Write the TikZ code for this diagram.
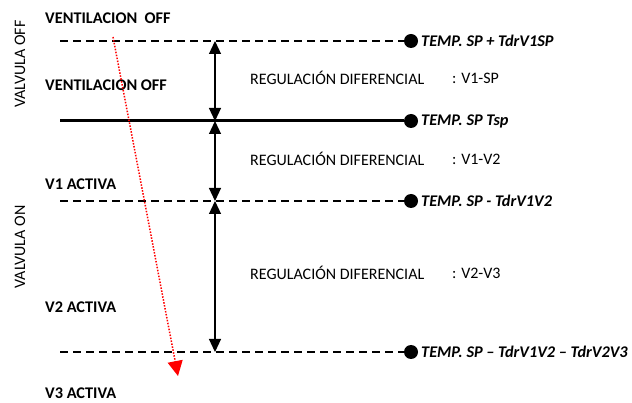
\documentclass[tikz,border=0pt]{standalone}
\usepackage{fontspec}
\setmainfont{Carlito}
\usetikzlibrary{arrows.meta}
\begin{document}
\begin{tikzpicture}[x=1pt,y=-1pt,
  lbl/.style={font=\fontsize{16.3}{18}\selectfont\bfseries, anchor=west, inner sep=0},
  tlbl/.style={font=\fontsize{16.3}{18}\selectfont\bfseries\itshape, anchor=west, inner sep=0},
  reg/.style={font=\fontsize{16}{18}\selectfont, anchor=west, inner sep=0},
  dot/.style={circle, fill=black, minimum size=14pt, inner sep=0},
  dline/.style={dash pattern=on 8pt off 5pt, line width=1.3pt},
  dim/.style={line width=1.2pt, {Triangle[length=13pt,width=12pt]}-{Triangle[length=13pt,width=12pt]}}
]
\useasboundingbox (0,0) rectangle (632,403);
% dots
\node[dot] (d1) at (411,41) {};
\node[dot] (d2) at (411,121) {};
\node[dot] (d3) at (411,201) {};
\node[dot] (d4) at (411,352) {};
\coordinate (s1) at (60,41);
\coordinate (s2) at (60,121);
\coordinate (s3) at (60,201);
\coordinate (s4) at (60,352);
\draw[dline] (s1) -- (d1.west);
\draw[line width=3pt] (s2) -- (d2.west);
\draw[dline] (s3) -- (d3.west);
\draw[dline] (s4) -- (d4.west);
% labels right
\node[tlbl] (t1) at (421,41) {TEMP. SP + TdrV1SP};
\node[tlbl] (t2) at (421,121) {TEMP. SP Tsp};
\node[tlbl] (t3) at (421,201) {TEMP. SP - TdrV1V2};
\node[tlbl] (t4) at (421,352) {TEMP. SP – TdrV1V2 – TdrV2V3};
% dimension arrows
\coordinate (a1) at (215,41);
\coordinate (a2) at (215,121);
\coordinate (a3) at (215,201);
\coordinate (a4) at (215,352);
\draw[dim] (a1) -- (a2);
\draw[dim] (a2) -- (a3);
\draw[dim] (a3) -- (a4);
% regulation labels
\node[reg] (r1) at (250,78) {REGULACIÓN DIFERENCIAL};
\node[reg] (r1b) at (452,78) {: V1-SP};
\node[reg] (r2) at (250,159) {REGULACIÓN DIFERENCIAL};
\node[reg] (r2b) at (452,159) {: V1-V2};
\node[reg] (r3) at (250,273) {REGULACIÓN DIFERENCIAL};
\node[reg] (r3b) at (452,273) {: V2-V3};
% left labels
\node[lbl] (l1) at (45,18) {VENTILACION\ \ OFF};
\node[lbl] (l2) at (45,85) {VENTILACION\ OFF};
\node[lbl] (l3) at (45,184) {V1 ACTIVA};
\node[lbl] (l4) at (45,307) {V2 ACTIVA};
\node[lbl, anchor=base west] (l5) at (45,398) {V3 ACTIVA};
\node[reg, anchor=center, rotate=90] (v1) at (20,64) {VALVULA OFF};
\node[reg, anchor=center, rotate=90] (v2) at (20,247) {VALVULA ON};
% red dotted arrow
\coordinate (p1) at (113,37);
\coordinate (p2) at (178,376);
\draw[red, line width=1.5pt, dash pattern=on 1.5pt off 1.5pt, -{Triangle[length=15pt,width=15pt]}] (p1) -- (p2);
\end{tikzpicture}
\end{document}
